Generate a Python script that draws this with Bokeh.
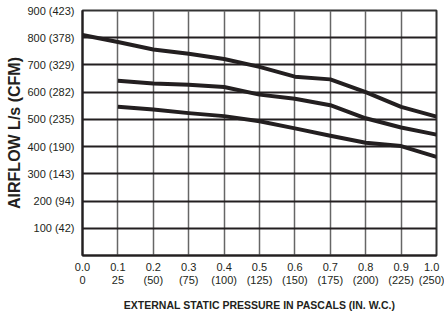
from bokeh.plotting import figure
from bokeh.models import Range1d, FixedTicker
from bokeh.embed import file_html
from bokeh.resources import INLINE

# ---- data ----
x_ticks = [0.0, 0.1, 0.2, 0.3, 0.4, 0.5, 0.6, 0.7, 0.8, 0.9, 1.0]
x_row1 = ["0.0", "0.1", "0.2", "0.3", "0.4", "0.5", "0.6", "0.7", "0.8", "0.9", "1.0"]
x_row2 = ["0", "25", "(50)", "(75)", "(100)", "(125)", "(150)", "(175)", "(200)", "(225)", "(250)"]

y_ticks = [100, 200, 300, 400, 500, 600, 700, 800, 900]
y_labels = ["100 (42)", "200 (94)", "300 (143)", "400 (190)", "500 (235)",
            "600 (282)", "700 (329)", "800 (378)", "900 (423)"]

top_x = [0.0, 0.1, 0.2, 0.3, 0.4, 0.5, 0.6, 0.7, 0.8, 0.9, 1.0]
top_y = [810, 784, 757, 741, 722, 693, 657, 647, 600, 546, 510]

mid_x = [0.1, 0.2, 0.3, 0.4, 0.5, 0.6, 0.7, 0.8, 0.9, 1.0]
mid_y = [642, 632, 627, 619, 591, 576, 552, 504, 470, 444]

low_x = [0.1, 0.2, 0.3, 0.4, 0.5, 0.6, 0.7, 0.8, 0.9, 1.0]
low_y = [546, 536, 523, 512, 493, 467, 440, 414, 402, 362]

ink = "#231f20"
font = "Liberation Sans"

p = figure(width=444, height=314, output_backend="svg", toolbar_location=None,
           x_range=Range1d(0, 1), y_range=Range1d(0, 900),
           min_border_left=82, min_border_right=8, min_border_top=10, min_border_bottom=56)
p.background_fill_color = "white"
p.border_fill_color = "white"
p.outline_line_color = "#333333"
p.outline_line_width = 2

for xs, ys in [(top_x, top_y), (mid_x, mid_y), (low_x, low_y)]:
    p.line(xs, ys, line_color=ink, line_width=4, line_join="round", line_cap="butt")

# grids
p.ygrid.ticker = FixedTicker(ticks=y_ticks)
p.ygrid.grid_line_color = ink
p.ygrid.grid_line_width = 2
p.xgrid.ticker = FixedTicker(ticks=x_ticks)
p.xgrid.grid_line_color = "#666666"
p.xgrid.grid_line_width = 1.5

# y axis
ya = p.yaxis[0]
ya.ticker = FixedTicker(ticks=y_ticks)
ya.major_label_overrides = {t: l for t, l in zip(y_ticks, y_labels)}
ya.major_tick_line_color = None
ya.minor_tick_line_color = None
ya.major_tick_in = 0
ya.major_tick_out = 0
ya.axis_line_color = ink
ya.axis_line_width = 2
ya.major_label_text_font = font
ya.major_label_text_font_size = "11px"
ya.major_label_text_color = ink
ya.major_label_standoff = 8
ya.axis_label = "AIRFLOW L/s (CFM)"
ya.axis_label_text_font = font
ya.axis_label_text_font_style = "bold"
ya.axis_label_text_font_size = "16px"
ya.axis_label_text_color = ink
ya.axis_label_standoff = 1

# x axis with two-row tick labels
xa = p.xaxis[0]
xa.ticker = FixedTicker(ticks=x_ticks)
xa.major_label_overrides = {t: a + "\n" + b for t, a, b in zip(x_ticks, x_row1, x_row2)}
xa.major_tick_line_color = None
xa.minor_tick_line_color = None
xa.major_tick_in = 0
xa.major_tick_out = 0
xa.axis_line_color = ink
xa.axis_line_width = 2
xa.major_label_text_font = font
xa.major_label_text_font_size = "11px"
xa.major_label_text_color = ink
xa.major_label_text_line_height = 1.15
xa.major_label_standoff = 5
xa.axis_label = "EXTERNAL STATIC PRESSURE IN PASCALS (IN. W.C.)"
xa.axis_label_text_font = font
xa.axis_label_text_font_style = "bold"
xa.axis_label_text_font_size = "10.5px"
xa.axis_label_text_color = ink
xa.axis_label_standoff = 10

open("out.html", "w").write(file_html(p, INLINE))
